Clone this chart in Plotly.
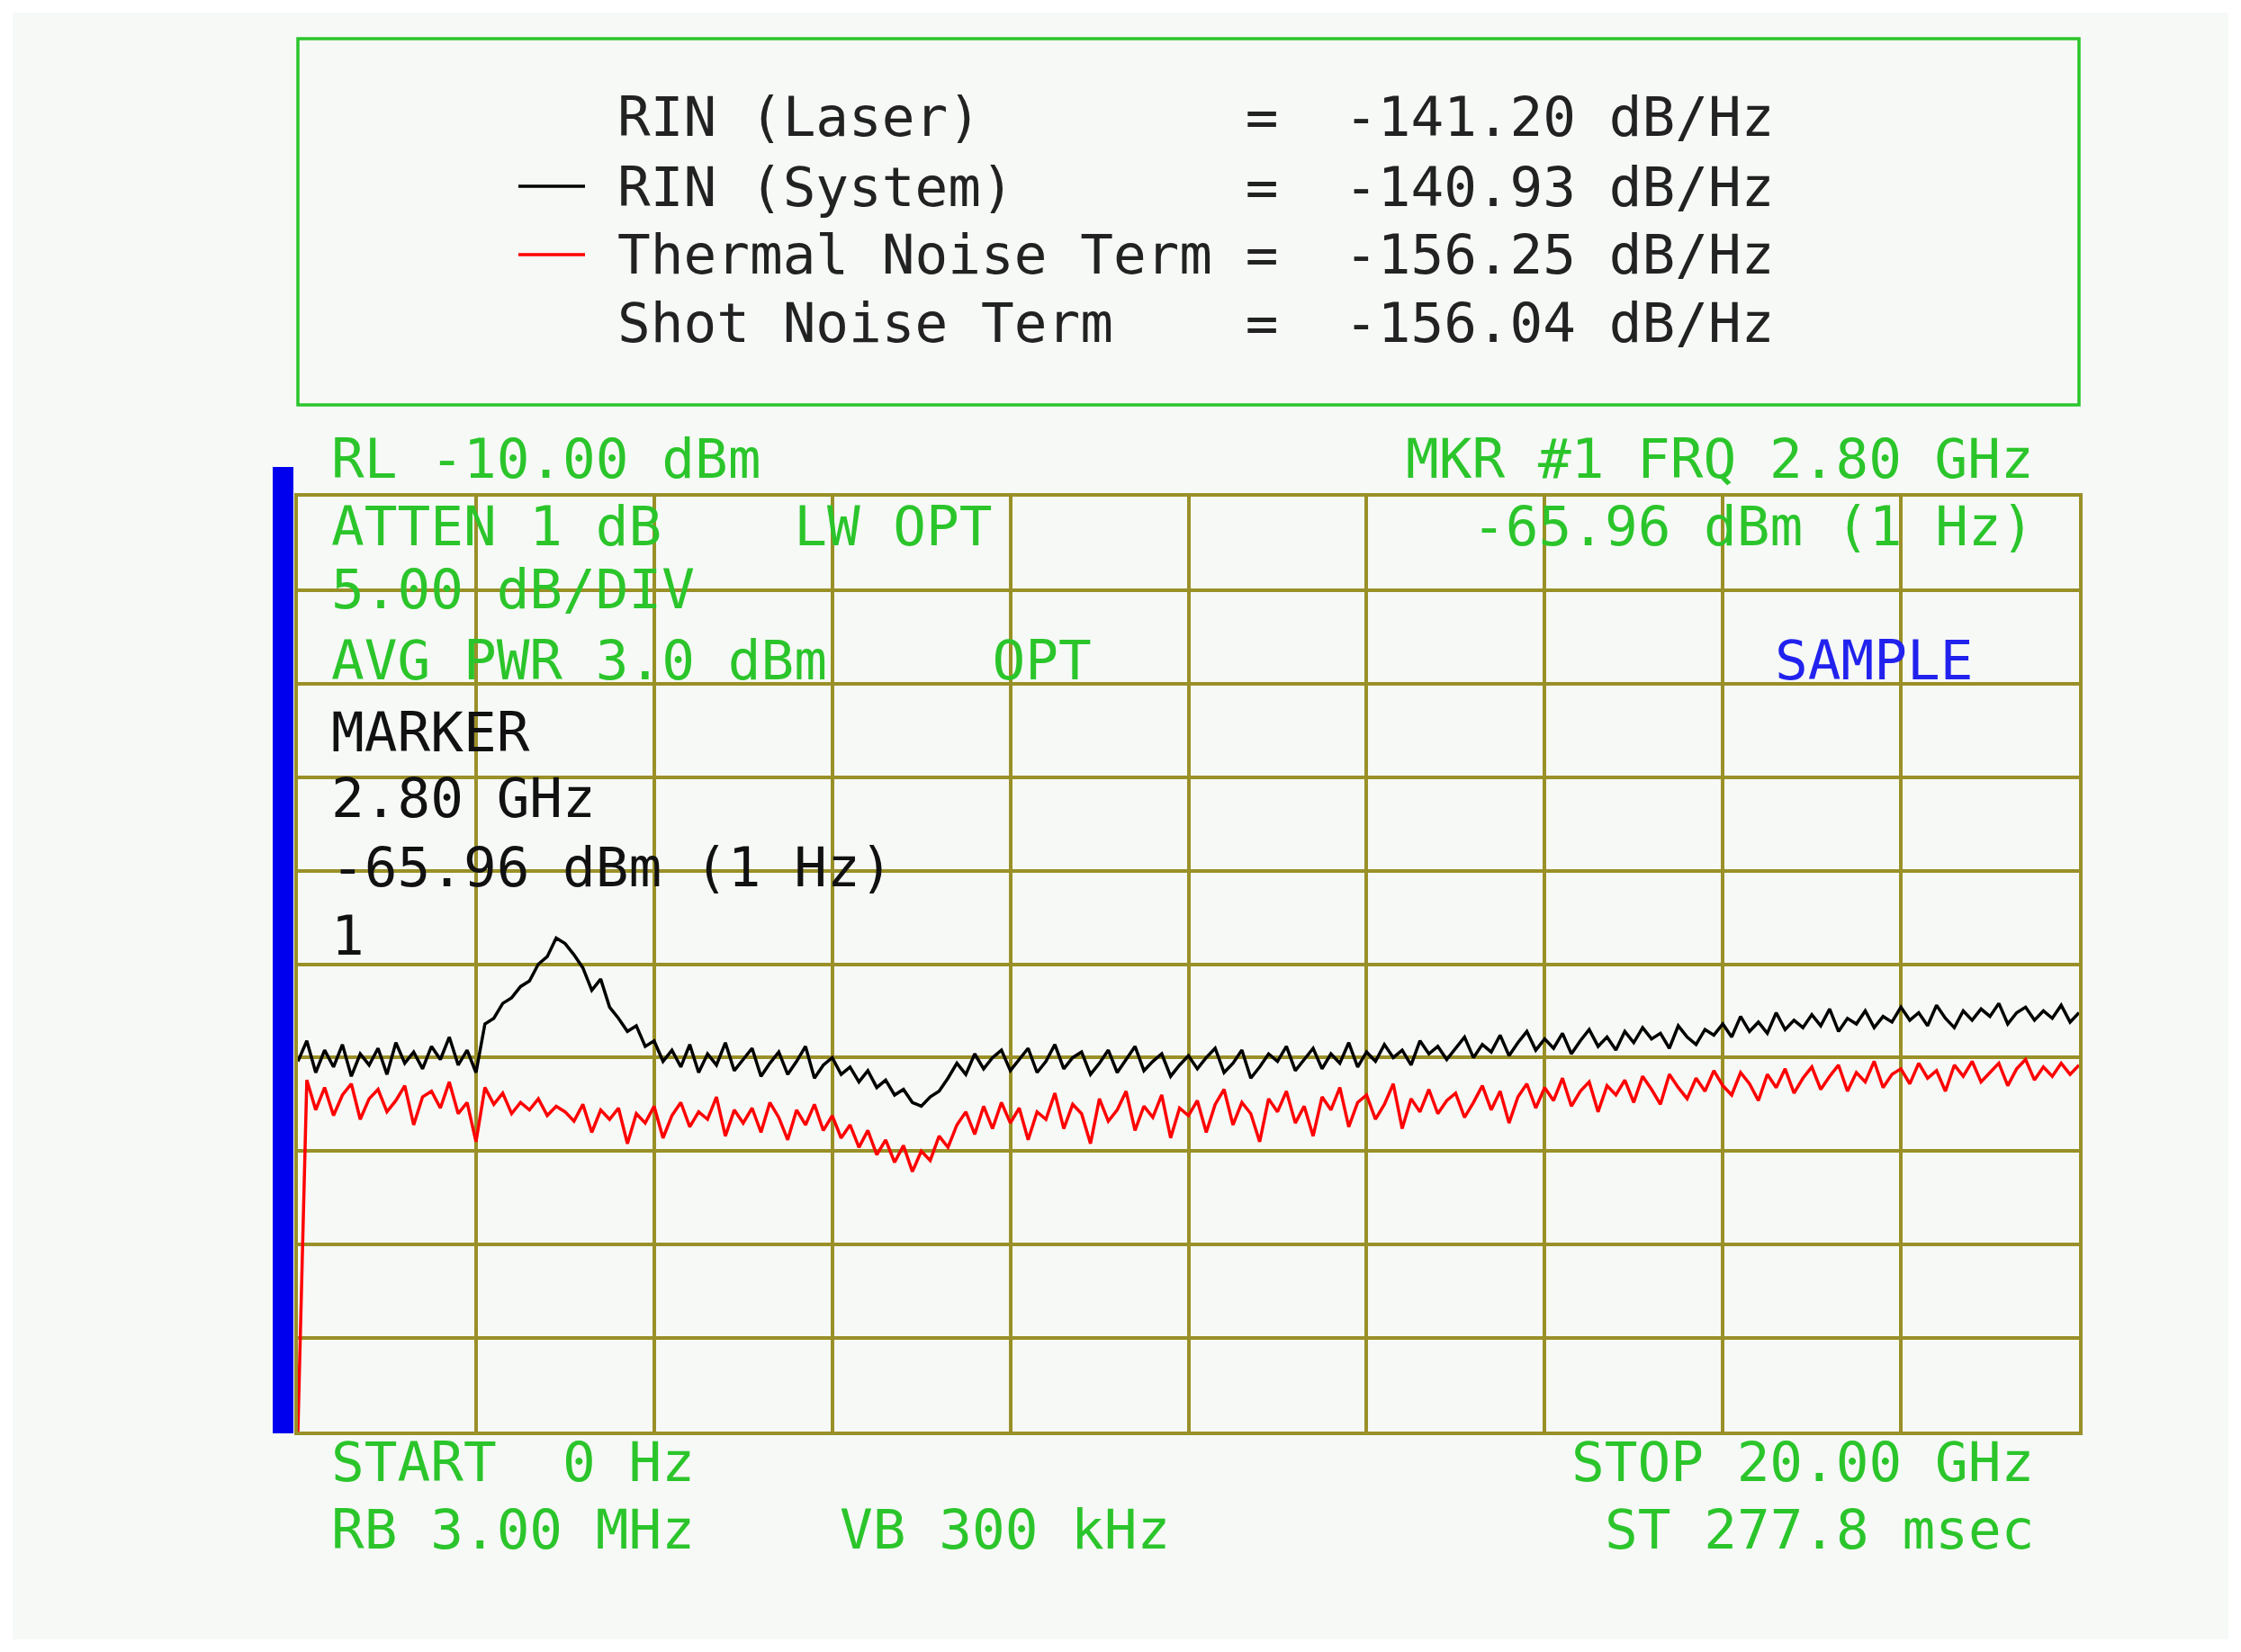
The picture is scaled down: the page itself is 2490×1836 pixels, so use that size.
import plotly.graph_objects as go

freq_ghz = [i * 0.1 for i in range(201)]

rin_system = [
 -40.2,-39.1,-40.8,-39.6,-40.5,-39.3,-41.0,-39.8,-40.4,-39.5,-40.9,-39.2,-40.3,-39.7,-40.6,-39.4,-40.1,-38.9,-40.4,-39.6,
 -40.8,-38.2,-37.9,-37.1,-36.8,-36.2,-35.9,-35.0,-34.6,-33.6,
 -33.9,-34.5,-35.2,-36.4,-35.8,-37.3,-37.9,-38.6,-38.3,-39.4,
 -39.1,-40.2,-39.6,-40.5,-39.3,-40.8,-39.8,-40.4,-39.2,-40.7,
 -40.1,-39.5,-41.0,-40.3,-39.7,-40.9,-40.2,-39.4,-41.1,-40.4,
 -40.0,-40.9,-40.5,-41.3,-40.7,-41.6,-41.2,-42.0,-41.7,-42.4,
 -42.6,-42.1,-41.8,-41.1,-40.3,-40.9,-39.8,-40.6,-40.0,-39.6,
 -40.7,-40.1,-39.5,-40.8,-40.2,-39.3,-40.6,-40.0,-39.7,-40.9,
 -40.3,-39.6,-40.8,-40.1,-39.4,-40.7,-40.2,-39.8,-41.0,-40.4,
 -39.9,-40.6,-40.0,-39.5,-40.8,-40.3,-39.6,-41.1,-40.5,-39.8,
 -40.2,-39.4,-40.7,-40.1,-39.5,-40.6,-39.8,-40.3,-39.2,-40.5,
 -39.7,-40.2,-39.3,-40.0,-39.6,-40.4,-39.1,-39.8,-39.4,-40.1,
 -39.5,-38.9,-40.0,-39.3,-39.7,-38.8,-39.9,-39.2,-38.6,-39.6,
 -39.0,-39.5,-38.7,-39.8,-39.1,-38.5,-39.4,-38.9,-39.6,-38.6,
 -39.2,-38.4,-39.0,-38.7,-39.5,-38.3,-38.9,-39.3,-38.5,-38.8,
 -38.2,-38.9,-37.8,-38.6,-38.1,-38.7,-37.6,-38.5,-38.0,-38.4,
 -37.7,-38.3,-37.4,-38.6,-37.9,-38.2,-37.5,-38.4,-37.8,-38.1,
 -37.3,-38.0,-37.6,-38.3,-37.2,-37.9,-38.4,-37.5,-38.0,-37.4,
 -37.8,-37.1,-38.2,-37.6,-37.3,-38.0,-37.5,-37.9,-37.2,-38.1,-37.6,
]

thermal = [
 -60.0,
 -41.2,-42.8,-41.6,-43.1,-42.0,-41.4,-43.3,-42.2,-41.7,-42.9,-42.3,-41.5,-43.6,-42.1,-41.8,-42.7,-41.3,-43.0,-42.4,
 -44.5,-41.6,-42.5,-41.9,-43.0,-42.4,-42.8,-42.2,-43.1,-42.6,
 -42.9,-43.4,-42.5,-44.0,-42.8,-43.3,-42.7,-44.6,-43.0,-43.5,
 -42.6,-44.3,-43.1,-42.4,-43.7,-42.9,-43.3,-42.1,-44.2,-42.8,
 -43.5,-42.7,-44.0,-42.4,-43.2,-44.4,-42.8,-43.6,-42.5,-43.9,
 -43.1,-44.3,-43.6,-44.8,-43.9,-45.2,-44.4,-45.6,-44.7,-46.1,
 -45.0,-45.5,-44.2,-44.8,-43.6,-42.9,-44.1,-42.6,-43.8,-42.4,
 -43.5,-42.7,-44.4,-42.9,-43.3,-41.9,-43.8,-42.5,-43.0,-44.6,
 -42.2,-43.4,-42.8,-41.8,-43.9,-42.6,-43.2,-42.0,-44.3,-42.7,
 -43.1,-42.3,-44.0,-42.5,-41.7,-43.6,-42.4,-43.0,-44.5,-42.2,
 -42.9,-41.8,-43.5,-42.6,-44.2,-42.1,-42.8,-41.6,-43.7,-42.4,
 -42.0,-43.3,-42.5,-41.4,-43.8,-42.2,-42.9,-41.7,-43.0,-42.3,
 -41.9,-43.2,-42.4,-41.5,-42.8,-41.8,-43.5,-42.1,-41.4,-42.7,
 -41.6,-42.3,-41.1,-42.6,-41.8,-41.3,-42.9,-41.5,-42.0,-41.2,
 -42.4,-41.0,-41.7,-42.5,-40.9,-41.6,-42.2,-41.1,-41.8,-40.7,
 -41.5,-42.0,-40.8,-41.4,-42.3,-40.9,-41.6,-40.6,-41.9,-41.1,
 -40.5,-41.7,-41.0,-40.4,-41.8,-40.8,-41.3,-40.2,-41.6,-40.9,
 -40.6,-41.4,-40.3,-41.1,-40.7,-41.8,-40.4,-41.0,-40.2,-41.3,
 -40.8,-40.3,-41.5,-40.6,-40.1,-41.2,-40.5,-41.0,-40.3,-40.9,-40.4,
]

legend_rows = [
    "RIN (Laser)        =  -141.20 dB/Hz",
    "RIN (System)       =  -140.93 dB/Hz",
    "Thermal Noise Term =  -156.25 dB/Hz",
    "Shot Noise Term    =  -156.04 dB/Hz",
]

W, H = 2490, 1836
OFF = 8  # page body margin
L, R, T, B = 331 - OFF, 2310 - OFF, 552 - OFF, 1591 - OFF
def px(x): return (x - OFF - L) / (R - L)
def py(y): return (B - (y - OFF)) / (B - T)

GREEN = "#2bc52b"
GRID = "#9a9028"
FONT = "DejaVu Sans Mono"
FS = 61

fig = go.Figure()
fig.add_trace(go.Scatter(x=freq_ghz, y=thermal, mode="lines", line=dict(color="#ff0000", width=3.5)))
fig.add_trace(go.Scatter(x=freq_ghz, y=rin_system, mode="lines", line=dict(color="#000000", width=3.5)))

shapes = [
    dict(type="rect", xref="paper", yref="paper", x0=px(14), x1=px(2476), y0=py(1822), y1=py(14),
         fillcolor="#f6f9f6", line=dict(width=0), layer="below"),
    dict(type="rect", xref="paper", yref="paper", x0=px(331), x1=px(2310), y0=py(450), y1=py(43),
         line=dict(color=GREEN, width=3.5)),
    dict(type="rect", xref="paper", yref="paper", x0=px(303), x1=px(326), y0=py(1593), y1=py(519),
         fillcolor="#0000ee", line=dict(width=0)),
    dict(type="line", xref="paper", yref="paper", x0=px(576), x1=px(650), y0=py(207), y1=py(207),
         line=dict(color="#000000", width=3.5)),
    dict(type="line", xref="paper", yref="paper", x0=px(576), x1=px(650), y0=py(283), y1=py(283),
         line=dict(color="#ff0000", width=3.5)),
]

ann = []
def txt(s, x, y, color, anchor="left"):
    ann.append(dict(text=s.replace(" ", "\u00a0"), x=px(x), y=py(y), xref="paper", yref="paper",
                    xanchor=anchor, yanchor="middle", showarrow=False,
                    font=dict(family=FONT, size=FS, color=color)))

for i, row in enumerate(legend_rows):
    txt(row, 684, [130, 207, 283, 358][i], "#222222")

txt("RL -10.00 dBm", 366, 509, GREEN)
txt("ATTEN 1 dB    LW OPT", 366, 584, GREEN)
txt("5.00 dB/DIV", 366, 654, GREEN)
txt("AVG PWR 3.0 dBm     OPT", 366, 733, GREEN)
txt("MARKER", 366, 813, "#111111")
txt("2.80 GHz", 366, 886, "#111111")
txt("-65.96 dBm (1 Hz)", 366, 963, "#111111")
txt("1", 366, 1039, "#111111")
txt("MKR #1 FRQ 2.80 GHz", 2262, 509, GREEN, "right")
txt("-65.96 dBm (1 Hz)", 2262, 584, GREEN, "right")
txt("SAMPLE", 1970, 733, "#2222ee")
txt("START  0 Hz", 366, 1624, GREEN)
txt("STOP 20.00 GHz", 2262, 1624, GREEN, "right")
txt("RB 3.00 MHz", 366, 1699, GREEN)
txt("VB 300 kHz", 931, 1699, GREEN)
txt("ST 277.8 msec", 2262, 1699, GREEN, "right")

fig.update_layout(
    width=W, height=H, margin=dict(l=L, r=W - R, t=T, b=H - B),
    paper_bgcolor="#ffffff", plot_bgcolor="#f6f9f6", showlegend=False,
    shapes=shapes, annotations=ann,
    xaxis=dict(range=[0, 20], dtick=2, showgrid=True, gridcolor=GRID, gridwidth=4, showticklabels=False,
               zeroline=False, showline=True, linecolor=GRID, linewidth=4, mirror=True, ticks=""),
    yaxis=dict(range=[-60, -10], dtick=5, showgrid=True, gridcolor=GRID, gridwidth=4, showticklabels=False,
               zeroline=False, showline=True, linecolor=GRID, linewidth=4, mirror=True, ticks=""),
)
fig.write_html("out.html")
